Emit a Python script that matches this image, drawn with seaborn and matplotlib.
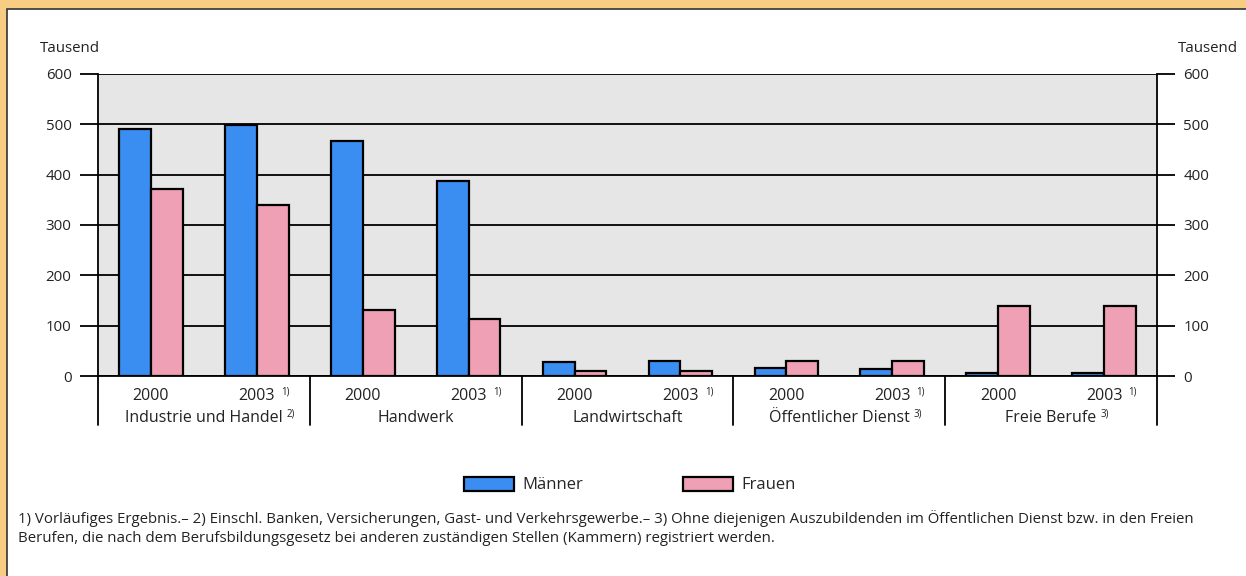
import matplotlib
matplotlib.use("Agg")
import matplotlib.pyplot as plt
import matplotlib.patches as mpatches
import matplotlib.transforms as mtransforms
import seaborn as sns
import pandas as pd

# ---------------- data ----------------
groups = ["Industrie und Handel", "Handwerk", "Landwirtschaft",
          "Öffentlicher Dienst", "Freie Berufe"]
group_notes = ["2)", "", "", "3)", "3)"]
years = ["2000", "2003"]
year_notes = ["", "1)"]
maenner = [490, 498, 466, 388, 27, 29, 15, 14, 5, 5]
frauen = [372, 340, 131, 114, 10, 9, 30, 29, 140, 140]
series = ["Männer", "Frauen"]
y_ticks = [0, 100, 200, 300, 400, 500, 600]
unit_label = "Tausend"
footnote = ("1) Vorläufiges Ergebnis.– 2) Einschl. Banken, Versicherungen, Gast- und Verkehrsgewerbe.– "
            "3) Ohne diejenigen Auszubildenden im Öffentlichen Dienst bzw. in den Freien\n"
            "Berufen, die nach dem Berufsbildungsgesetz bei anderen zuständigen Stellen (Kammern) registriert werden.")

colors = {"Männer": "#3a8ef2", "Frauen": "#f0a0b4"}

slots = [f"{g}|{y}" for g in groups for y in years]
rows = []
for i, s in enumerate(slots):
    rows.append({"slot": s, "Geschlecht": "Männer", "wert": maenner[i]})
    rows.append({"slot": s, "Geschlecht": "Frauen", "wert": frauen[i]})
df = pd.DataFrame(rows)

# ---------------- figure ----------------
sns.set_theme(style="white")
plt.rcParams["font.family"] = ["Open Sans", "DejaVu Sans"]

W, H = 1246, 576
fig = plt.figure(figsize=(W / 100, H / 100), dpi=100)
fig.patch.set_facecolor("#f7cd84")
panel = mpatches.Rectangle((7 / W, -0.01), (W - 7) / W + 0.02, (H - 9) / H + 0.01,
                           transform=fig.transFigure, facecolor="white",
                           edgecolor="#333333", linewidth=1.2, zorder=-10)
fig.patches.append(panel)

ax = fig.add_axes([98 / W, 1 - 376 / H, (1157 - 98) / W, (376 - 74) / H])
ax.set_facecolor("#e6e6e6")

sns.barplot(data=df, x="slot", y="wert", hue="Geschlecht", order=slots,
            hue_order=series, palette=colors, width=0.6, edgecolor="black",
            linewidth=1.6, saturation=1, legend=False, ax=ax, zorder=3)

ax.set_xlim(-0.5, len(slots) - 0.5)
ax.set_ylim(0, 600)
ax.set_yticks(y_ticks)
ax.set_yticklabels([str(t) for t in y_ticks], fontsize=10.8, color="#222222")
ax.yaxis.grid(True, color="black", linewidth=1.3, zorder=1)
ax.set_axisbelow(True)
ax.tick_params(axis="y", which="both", left=True, right=True, labelleft=True,
               labelright=True, length=13, width=1.3, color="black", pad=6,
               direction="out")
ax.set_xticks([])
ax.set_xlabel("")
ax.set_ylabel("")
for side in ["left", "right", "bottom"]:
    ax.spines[side].set_visible(True)
    ax.spines[side].set_color("black")
    ax.spines[side].set_linewidth(1.3)
ax.spines["top"].set_visible(False)

# x labels
trans = mtransforms.blended_transform_factory(ax.transData, ax.transAxes)
for i, s in enumerate(slots):
    yi = i % 2
    ax.text(i, -0.065, years[yi], transform=trans, ha="center", va="center",
            fontsize=11.5, color="#222222")
    if year_notes[yi]:
        ax.text(i + 0.23, -0.052, year_notes[yi], transform=trans, ha="left",
                va="center", fontsize=7, color="#222222")
for gi, g in enumerate(groups):
    cx = gi * 2 + 0.5
    t = ax.text(cx, -0.138, g, transform=trans, ha="center", va="center",
                fontsize=11.5, color="#222222")
    if group_notes[gi]:
        ax.annotate(group_notes[gi], xy=(1, 0.75), xycoords=t,
                    xytext=(3, 0), textcoords="offset points",
                    ha="left", va="center", fontsize=7, color="#222222")
for k in range(len(groups) + 1):
    ax.plot([k * 2 - 0.5, k * 2 - 0.5], [0, -0.162], transform=trans,
            color="black", linewidth=1.3, clip_on=False, zorder=5)

# unit labels
fig.text(40 / W, 1 - 48 / H, unit_label, ha="left", va="center",
         fontsize=10.8, color="#222222")
fig.text(1238 / W, 1 - 48 / H, unit_label, ha="right", va="center",
         fontsize=10.8, color="#222222")

# legend
handles = [mpatches.Patch(facecolor=colors[s], edgecolor="black",
                          linewidth=1.6, label=s) for s in series]
fig.legend(handles=handles, loc="center", bbox_to_anchor=(630 / W, 1 - 485 / H),
           ncol=2, frameon=False, fontsize=12, handlelength=3.0,
           handleheight=0.95, columnspacing=6.0, handletextpad=0.5)

fig.text(18 / W, 1 - 528 / H, footnote, ha="left", va="center",
         fontsize=10.8, color="#222222", linespacing=1.3)

fig.savefig("out.png", dpi=100, facecolor=fig.get_facecolor())
